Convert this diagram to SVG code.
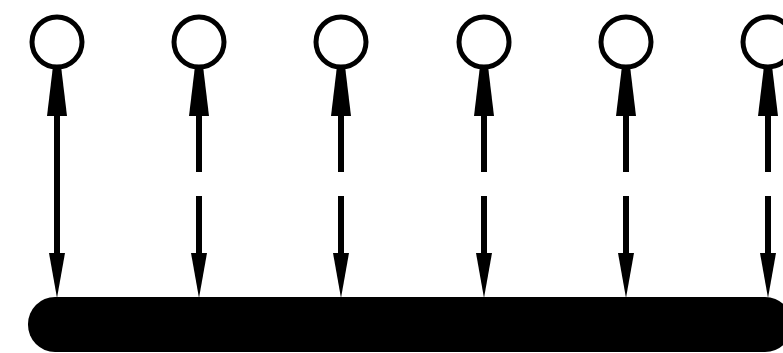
<svg xmlns="http://www.w3.org/2000/svg" width="783" height="353" viewBox="0 0 783 353">
<defs>
<style>
.node{fill:none;stroke:#000;stroke-width:5}
.ln{stroke:#000;stroke-width:6;fill:none}
.dash{stroke-dasharray:57 24}
.head{fill:#000}
</style>
<g id="arrowUp"><polygon class="head" points="-4,66 4,66 10,116 -10,116"/></g>
<g id="arrowDown"><polygon class="head" points="-8,253 8,253 0,298"/></g>
</defs>
<rect width="783" height="353" fill="#fff"/>
<g id="bus"><rect x="28" y="297" width="764" height="55" rx="27" ry="27" fill="#000"/></g>
<g id="node1"><circle class="node" cx="57" cy="42" r="25"/></g>
<g id="node2"><circle class="node" cx="199" cy="42" r="25"/></g>
<g id="node3"><circle class="node" cx="341" cy="42" r="25"/></g>
<g id="node4"><circle class="node" cx="484" cy="42" r="25"/></g>
<g id="node5"><circle class="node" cx="626" cy="42" r="25"/></g>
<g id="node6"><circle class="node" cx="768" cy="42" r="25"/></g>
<g id="connectors">
<line class="ln" x1="57" y1="114" x2="57" y2="256"/>
<use href="#arrowUp" x="57"/><use href="#arrowDown" x="57"/>
<line class="ln dash" x1="199" y1="115" x2="199" y2="256"/>
<use href="#arrowUp" x="199"/><use href="#arrowDown" x="199"/>
<line class="ln dash" x1="341" y1="115" x2="341" y2="256"/>
<use href="#arrowUp" x="341"/><use href="#arrowDown" x="341"/>
<line class="ln dash" x1="484" y1="115" x2="484" y2="256"/>
<use href="#arrowUp" x="484"/><use href="#arrowDown" x="484"/>
<line class="ln dash" x1="626" y1="115" x2="626" y2="256"/>
<use href="#arrowUp" x="626"/><use href="#arrowDown" x="626"/>
<line class="ln dash" x1="768" y1="115" x2="768" y2="256"/>
<use href="#arrowUp" x="768"/><use href="#arrowDown" x="768"/>
</g>
</svg>
